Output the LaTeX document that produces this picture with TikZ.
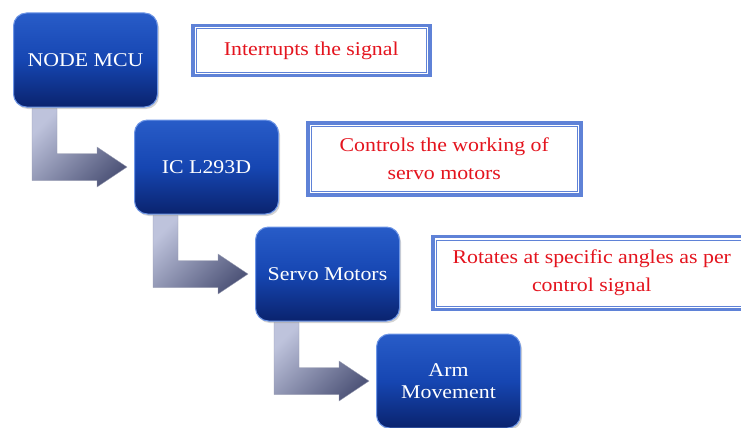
\documentclass[tikz,border=0pt]{standalone}
\usepackage{fontspec}
\setmainfont{Liberation Serif}[FakeStretch=1.12]
\usetikzlibrary{positioning}
\usetikzlibrary{calc}
\usetikzlibrary{shadows}
\usetikzlibrary{backgrounds}
\definecolor{stagetop}{RGB}{40,92,200}
\definecolor{stagemid}{RGB}{22,70,178}
\definecolor{stagebot}{RGB}{10,35,110}
\definecolor{stagerim}{RGB}{110,150,230}
\definecolor{noteblue}{RGB}{95,130,215}
\definecolor{notered}{RGB}{228,20,30}
\definecolor{elbowlight}{RGB}{190,195,220}
\definecolor{elbowdark}{RGB}{80,86,122}
\tikzset{stage/.style={rectangle, rounded corners=13pt, minimum width=144pt,
minimum height=94pt, top color=stagetop, bottom color=stagebot,
middle color=stagemid, draw=stagerim, line width=1pt, text=white,
align=center, font=\fontsize{19.5}{22}\selectfont,
drop shadow={opacity=0.35, shadow xshift=1.5pt, shadow yshift=-2pt}},
note/.style={rectangle, fill=white, draw=noteblue, line width=3.5pt,
text=notered, align=center, font=\fontsize{19.5}{28}\selectfont,
path picture={\draw [noteblue, line width=1pt]
([shift={(3.5pt,-3.5pt)}]path picture bounding box.north west) rectangle
([shift={(-3.5pt,3.5pt)}]path picture bounding box.south east);}},
elbowarrow/.style={shade, top color=elbowlight, bottom color=elbowdark,
shading angle=45, draw=elbowdark!60, line width=0.4pt}}
\newcommand{\elbow}[2]{
\begin{pgfonlayer}{background}
\coordinate (from#1) at ([xshift=31.5pt, yshift=-1pt]#1.south west);
\coordinate (to#2) at ([xshift=-7pt]#2.west);
\path [elbowarrow] ($(from#1)+(-12.5pt,0)$) -- ($(from#1)+(12.5pt,0)$)
-- ($(from#1 |- to#2)+(12.5pt,13.5pt)$) -- ($(to#2)+(-30pt,13.5pt)$)
-- ($(to#2)+(-30pt,20pt)$) -- (to#2) -- ($(to#2)+(-30pt,-20pt)$)
-- ($(to#2)+(-30pt,-13.5pt)$) -- ($(from#1 |- to#2)+(-12.5pt,-13.5pt)$)
-- cycle;
\end{pgfonlayer}
}

\begin{document}
\begin{tikzpicture}[x=1pt, y=1pt]
    \useasboundingbox (0,0) rectangle (741,-428);

    \node (mcu) [stage] at (85.5,-60) {NODE MCU};
    \node (ic) [stage, below right = 12pt and -24pt of mcu] {IC L293D};
    \node (servo) [stage, below right = 12pt and -24pt of ic] {Servo Motors};
    \node (arm) [stage, below right = 12pt and -24pt of servo] {Arm\\Movement};

    \node (interrupt) [note, minimum width=237pt, minimum height=50pt,
        right = 33pt of mcu, yshift=9.5pt] {Interrupts the signal};
    \node (control) [note, minimum width=273pt, minimum height=72pt,
        right = 27pt of ic, yshift=8pt] {Controls the working of\\servo motors};
    \node (rotate) [note, minimum width=318pt, minimum height=73pt,
        right = 31pt of servo, yshift=1pt] {Rotates at specific angles as per\\control signal};

    \elbow{mcu}{ic}
    \elbow{ic}{servo}
    \elbow{servo}{arm}

\end{tikzpicture}
\end{document}
